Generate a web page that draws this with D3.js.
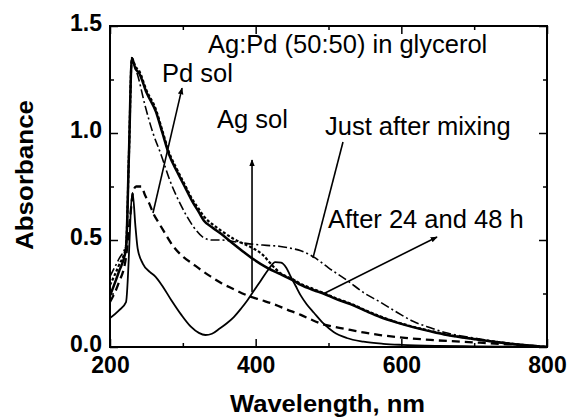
<!DOCTYPE html>
<html>
<head>
<meta charset="utf-8">
<script src="https://cdn.jsdelivr.net/npm/d3@7"></script>
<style>
  html, body { margin: 0; padding: 0; background: #fff; }
  svg { display: block; }
</style>
</head>
<body>
<svg id="chart" width="568" height="418"></svg>
<script>
// ---------------- data (wavelength nm, absorbance) ----------------
const agSol = [[200,0.135],[212,0.17],[222,0.21],[231,0.72],[235,0.56],[238,0.46],[245,0.39],[255,0.35],[262,0.33],[271,0.29],[284,0.22],[298,0.15],[311,0.095],[322,0.066],[331,0.056],[340,0.062],[350,0.085],[360,0.11],[370,0.14],[380,0.18],[389,0.22],[398,0.265],[407,0.31],[417,0.36],[427,0.397],[435,0.394],[442,0.37],[448,0.33],[455,0.285],[462,0.24],[470,0.2],[480,0.16],[493,0.11],[507,0.07],[525,0.042],[548,0.025],[575,0.015],[600,0.01],[650,0.005],[700,0.003],[800,0.0]];

const pdSol = [[200,0.21],[212,0.3],[222,0.42],[228,0.62],[232,0.73],[236,0.75],[243,0.75],[248,0.71],[254,0.67],[260,0.62],[267,0.58],[274,0.54],[287,0.47],[301,0.42],[313,0.39],[325,0.36],[338,0.33],[352,0.30],[370,0.27],[389,0.24],[407,0.22],[425,0.20],[443,0.175],[462,0.15],[475,0.13],[489,0.11],[510,0.093],[530,0.08],[550,0.067],[571,0.056],[605,0.043],[640,0.033],[675,0.026],[708,0.02],[740,0.014],[770,0.008],[800,0.0]];

const justAfterMixing = [[200,0.33],[212,0.41],[222,0.48],[226,0.9],[230,1.35],[233,1.32],[238,1.27],[248,1.13],[259,1.0],[270,0.9],[282,0.78],[292,0.70],[304,0.62],[315,0.56],[329,0.51],[340,0.50],[352,0.50],[375,0.49],[397,0.48],[415,0.475],[434,0.47],[450,0.46],[462,0.45],[480,0.42],[500,0.37],[526,0.31],[550,0.25],[571,0.21],[595,0.16],[616,0.12],[640,0.09],[663,0.065],[685,0.05],[708,0.037],[730,0.024],[753,0.012],[775,0.005],[800,0.0]];

const after24h = [[200,0.24],[212,0.35],[222,0.46],[226,0.9],[230,1.35],[235,1.30],[240,1.28],[250,1.19],[263,1.10],[272,1.0],[281,0.90],[292,0.82],[304,0.74],[313,0.68],[322,0.63],[329,0.59],[340,0.56],[352,0.53],[370,0.48],[385,0.44],[397,0.41],[416,0.37],[434,0.34],[452,0.31],[462,0.29],[480,0.265],[493,0.25],[510,0.225],[530,0.20],[550,0.17],[571,0.14],[593,0.115],[616,0.093],[640,0.073],[663,0.056],[685,0.044],[708,0.033],[730,0.023],[753,0.014],[775,0.007],[800,0.0]];

const after48h = [[200,0.29],[212,0.38],[222,0.47],[226,0.9],[230,1.35],[235,1.31],[240,1.29],[250,1.20],[263,1.11],[272,1.01],[281,0.91],[292,0.83],[304,0.75],[313,0.69],[322,0.645],[329,0.61],[340,0.575],[352,0.545],[370,0.505],[385,0.48],[397,0.46],[410,0.43],[418,0.40],[426,0.37],[434,0.345],[452,0.315],[462,0.295],[480,0.27],[493,0.253],[510,0.228],[530,0.203],[550,0.173],[571,0.143],[593,0.117],[616,0.095],[640,0.075],[663,0.058],[685,0.045],[708,0.034],[730,0.024],[753,0.015],[775,0.007],[800,0.0]];

const xMajorTicks = [200, 400, 600, 800];
const xMinorTicks = [300, 500, 700];
const yMajorTicks = [0.0, 0.5, 1.0, 1.5];
const yMinorTicks = [0.25, 0.75, 1.25];

const xTitle = "Wavelength, nm";
const yTitle = "Absorbance";

// annotations in data coordinates
const labels = [
  { text: "Ag:Pd (50:50) in glycerol", x: 334.6, y: 1.374 },
  { text: "Pd sol", x: 271.4, y: 1.238 },
  { text: "Ag sol", x: 346.9, y: 1.023 },
  { text: "Just after mixing", x: 495.2, y: 0.991 },
  { text: "After 24 and 48 h", x: 499.3, y: 0.556 }
];
const pointers = [
  { from: [259, 0.626], to: [298.9, 1.21], head: true },
  { from: [395, 0.257], to: [395, 0.874], head: true },
  { from: [478.7, 0.416], to: [519.9, 0.958], head: false },
  { from: [492.5, 0.248], to: [649, 0.514], head: true }
];

// ---------------- drawing ----------------
const svg = d3.select("#chart");
const pL = 110, pR = 547, pT = 26, pB = 347;
const x = d3.scaleLinear().domain([200, 800]).range([pL, pR]);
const y = d3.scaleLinear().domain([0, 1.5]).range([pB, pT]);

const FONT = "'Liberation Sans', Arial, Helvetica, sans-serif";

const defs = svg.append("defs");
defs.append("marker")
  .attr("id", "arrow")
  .attr("viewBox", "0 0 10 10")
  .attr("refX", 9).attr("refY", 5)
  .attr("markerWidth", 7).attr("markerHeight", 7)
  .attr("markerUnits", "userSpaceOnUse")
  .attr("orient", "auto")
  .append("path").attr("d", "M0,1 L10,5 L0,9 Z").attr("fill", "#000");

defs.append("clipPath").attr("id", "clip")
  .append("rect").attr("x", pL).attr("y", pT).attr("width", pR - pL).attr("height", pB - pT);

const line = d3.line().x(d => x(d[0])).y(d => y(d[1])).curve(d3.curveMonotoneX);

const series = [
  { data: pdSol, width: 2.3, dash: "8,5" },
  { data: justAfterMixing, width: 1.6, dash: "9,3,2,3" },
  { data: agSol, width: 1.8, dash: null },
  { data: after48h, width: 2.2, dash: "3,2" },
  { data: after24h, width: 2.5, dash: null }
];

const g = svg.append("g").attr("clip-path", "url(#clip)");
series.forEach(s => {
  g.append("path").datum(s.data)
    .attr("d", line)
    .attr("fill", "none")
    .attr("stroke", "#000")
    .attr("stroke-width", s.width)
    .attr("stroke-linejoin", "round")
    .attr("stroke-dasharray", s.dash);
});

// axes
function styleAxis(sel) {
  sel.select(".domain").remove();
  sel.selectAll(".tick line").attr("stroke", "#000").attr("stroke-width", 1.5);
  sel.selectAll("text").attr("font-family", FONT).attr("font-weight", "bold")
     .attr("font-size", 23).attr("fill", "#000");
}
svg.append("g").attr("transform", `translate(0,${pB})`)
  .call(d3.axisBottom(x).tickValues(xMajorTicks).tickSizeInner(-8).tickSizeOuter(0).tickPadding(10).tickFormat(d3.format("d")))
  .call(styleAxis);
svg.append("g").attr("transform", `translate(0,${pB})`)
  .call(d3.axisBottom(x).tickValues(xMinorTicks).tickSizeInner(-4).tickSizeOuter(0).tickFormat(""))
  .call(styleAxis);
svg.append("g").attr("transform", `translate(0,${pT})`)
  .call(d3.axisTop(x).tickValues(xMajorTicks).tickSizeInner(-8).tickSizeOuter(0).tickFormat(""))
  .call(styleAxis);
svg.append("g").attr("transform", `translate(0,${pT})`)
  .call(d3.axisTop(x).tickValues(xMinorTicks).tickSizeInner(-4).tickSizeOuter(0).tickFormat(""))
  .call(styleAxis);
svg.append("g").attr("transform", `translate(${pL},0)`)
  .call(d3.axisLeft(y).tickValues(yMajorTicks).tickSizeInner(-8).tickSizeOuter(0).tickPadding(8).tickFormat(d3.format(".1f")))
  .call(styleAxis)
  .call(sel => sel.selectAll("text").attr("dy", "0.2em"));
svg.append("g").attr("transform", `translate(${pL},0)`)
  .call(d3.axisLeft(y).tickValues(yMinorTicks).tickSizeInner(-4).tickSizeOuter(0).tickFormat(""))
  .call(styleAxis);
svg.append("g").attr("transform", `translate(${pR},0)`)
  .call(d3.axisRight(y).tickValues(yMajorTicks).tickSizeInner(-8).tickSizeOuter(0).tickFormat(""))
  .call(styleAxis);
svg.append("g").attr("transform", `translate(${pR},0)`)
  .call(d3.axisRight(y).tickValues(yMinorTicks).tickSizeInner(-4).tickSizeOuter(0).tickFormat(""))
  .call(styleAxis);

// frame
svg.append("rect").attr("x", pL).attr("y", pT)
  .attr("width", pR - pL).attr("height", pB - pT)
  .attr("fill", "none").attr("stroke", "#000").attr("stroke-width", 2);

// axis titles
svg.append("text").text(xTitle)
  .attr("x", (pL + pR) / 2 - 1).attr("y", 412)
  .attr("text-anchor", "middle")
  .attr("font-family", FONT).attr("font-weight", "bold").attr("font-size", 24)
  .attr("textLength", 195).attr("lengthAdjust", "spacingAndGlyphs");
svg.append("text").text(yTitle)
  .attr("transform", "translate(33,175) rotate(-90)")
  .attr("text-anchor", "middle")
  .attr("font-family", FONT).attr("font-weight", "bold").attr("font-size", 24)
  .attr("textLength", 150).attr("lengthAdjust", "spacingAndGlyphs");

// annotations
labels.forEach(l => {
  svg.append("text").text(l.text)
    .attr("x", x(l.x)).attr("y", y(l.y))
    .attr("font-family", FONT).attr("font-size", 25.5).attr("fill", "#000");
});
pointers.forEach(p => {
  svg.append("line")
    .attr("x1", x(p.from[0])).attr("y1", y(p.from[1]))
    .attr("x2", x(p.to[0])).attr("y2", y(p.to[1]))
    .attr("stroke", "#000").attr("stroke-width", 1.6)
    .attr("marker-end", p.head ? "url(#arrow)" : null);
});
</script>
</body>
</html>
